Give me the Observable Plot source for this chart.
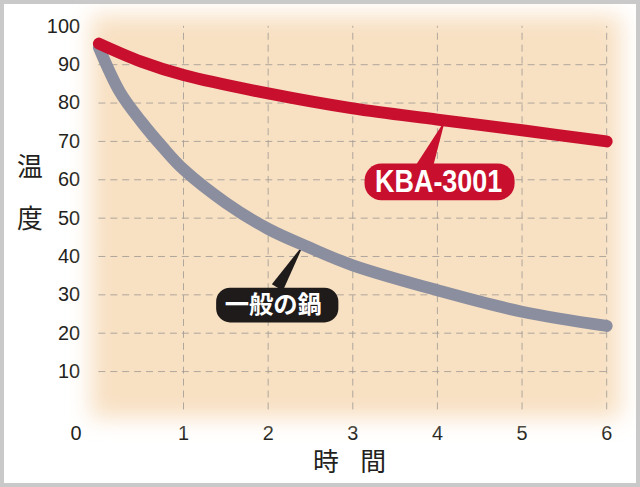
<!DOCTYPE html>
<html><head><meta charset="utf-8">
<script src="https://cdn.jsdelivr.net/npm/d3@7"></script>
<script src="https://cdn.jsdelivr.net/npm/@observablehq/plot@0.6"></script>
<style>
html,body{margin:0;padding:0;background:#fff;}
#box{width:640px;height:487px;box-sizing:border-box;border:4px solid #c9c9c9;background:#fff;position:relative;overflow:hidden;}
#chart{position:absolute;left:-4px;top:-4px;}
</style></head><body><div id="box"><div id="chart"></div></div>
<script>
// ---- data ----
const kbaHours = [0, 0.5, 1, 2, 3, 4, 5, 6];
const kbaTemp  = [95.5, 90.8, 87.3, 82.5, 78.6, 75.7, 72.9, 70.0];
const potHours = [0, 0.25, 0.5, 0.75, 1, 1.5, 2, 2.5, 3, 4, 5, 6];
const potTemp  = [94.5, 82.8, 75.2, 68.6, 62.7, 54.0, 47.2, 42.2, 37.7, 31.2, 25.6, 21.9];
const xTicks = [1, 2, 3, 4, 5, 6];
const yTicks = [10, 20, 30, 40, 50, 60, 70, 80, 90, 100];
const yGrid  = [10, 20, 30, 40, 50, 60, 70, 80, 90];
const seriesNames = ["KBA-3001", "一般の鍋"];
const calloutHours = [4.09, 2.42];
const calloutTemp  = [75.5, 43.2];
const yTitle = ["温", "度"];
const xTitle = ["時", "間"];

const kba = kbaHours.map((h, i) => ({h, t: kbaTemp[i]}));
const pot = potHours.map((h, i) => ({h, t: potTemp[i]}));
const kbaCall = [{h: calloutHours[0], t: calloutTemp[0], label: seriesNames[0]}];
const potCall = [{h: calloutHours[1], t: calloutTemp[1], label: seriesNames[1]}];

const RED = "#c8102e", GRAY = "#8a8e9f", DARK = "#1f1b1b";
const numFont = "'Liberation Sans', Arial, Helvetica, sans-serif";
const cjkFont = "'Noto Sans CJK JP', 'Noto Sans CJK SC', sans-serif";

function roundRect(w, h, r) {
  return {draw(ctx) {
    const x0 = -w / 2, y0 = -h / 2, x1 = w / 2, y1 = h / 2;
    ctx.moveTo(x0 + r, y0);
    ctx.lineTo(x1 - r, y0);
    ctx.arcTo(x1, y0, x1, y0 + r, r);
    ctx.lineTo(x1, y1 - r);
    ctx.arcTo(x1, y1, x1 - r, y1, r);
    ctx.lineTo(x0 + r, y1);
    ctx.arcTo(x0, y1, x0, y1 - r, r);
    ctx.lineTo(x0, y0 + r);
    ctx.arcTo(x0, y0, x0 + r, y0, r);
    ctx.closePath();
  }};
}
const spike = Plot.spike ? Plot.spike : (d, o) => Plot.vector(d, {shape: "spike", ...o});
const titleOpts = {text: d => d, textAnchor: "middle", lineAnchor: "middle", fontSize: 26, fontFamily: cjkFont, fill: "#231f20"};

const chart = Plot.plot({
  width: 640, height: 487,
  marginLeft: 99, marginRight: 30, marginTop: 26, marginBottom: 75,
  style: {fontSize: "20px", fontFamily: numFont, color: "#231f20", background: "transparent", overflow: "visible"},
  x: {domain: [0, 6], ticks: xTicks, tickFormat: "d", tickSize: 0, tickPadding: 16, label: null},
  y: {domain: [0, 100], ticks: yTicks, tickFormat: "d", tickSize: 0, tickPadding: 19, label: null},
  marks: [
    Plot.frame({fill: "#f8e0c2", stroke: "none", insetLeft: -8, insetRight: -14, insetTop: -11, insetBottom: -8}),
    Plot.ruleX(xTicks, {x: d => d, y1: 0, y2: 100, stroke: "#9d9893", strokeOpacity: 0.8, strokeDasharray: "7,5"}),
    Plot.ruleY(yGrid, {y: d => d, x1: 0, x2: 6, stroke: "#9d9893", strokeOpacity: 0.8, strokeDasharray: "7,5"}),
    Plot.text([0], {x: d => d, y: d => d, text: () => "0", dx: -23, dy: 23.5, fontSize: 20, fontFamily: numFont, fill: "#231f20"}),
    // callout pointers
    spike(kbaCall, {x: "h", y: "t", length: 52, rotate: 23.8, r: 8.5, anchor: "end", fill: RED, fillOpacity: 1, stroke: "none"}),
    spike(potCall, {x: "h", y: "t", length: 51, rotate: 31.3, r: 6.5, anchor: "end", fill: DARK, fillOpacity: 1, stroke: "none"}),
    // series lines
    Plot.line(pot, {x: "h", y: "t", stroke: GRAY, strokeWidth: 12, curve: "catmull-rom", strokeLinecap: "round"}),
    Plot.line(kba, {x: "h", y: "t", stroke: RED, strokeWidth: 12, curve: "catmull-rom", strokeLinecap: "round"}),
    // callout boxes
    Plot.dot(kbaCall, {x: "h", y: "t", symbol: roundRect(151, 37, 17), r: 10, fill: RED, stroke: "none", dx: -5.5, dy: 62}),
    Plot.dot(potCall, {x: "h", y: "t", symbol: roundRect(123, 35, 14), r: 10, fill: DARK, stroke: "none", dx: -26.6, dy: 61.2}),
    Plot.text(kbaCall, {x: "h", y: "t", text: "label", dx: -6.4, dy: 62, fill: "white", fontSize: 31, fontWeight: "bold", fontFamily: numFont}),
    Plot.text(potCall, {x: "h", y: "t", text: "label", dx: -30.6, dy: 61, fill: "white", fontSize: 24.5, fontWeight: "bold", fontFamily: cjkFont}),
    // axis titles
    Plot.text([yTitle[0]], {frameAnchor: "left", dx: -69.5, dy: -51, ...titleOpts}),
    Plot.text([yTitle[1]], {frameAnchor: "left", dx: -69.5, dy: 2, ...titleOpts}),
    Plot.text([xTitle[0]], {frameAnchor: "bottom", dx: -27, dy: 53, ...titleOpts}),
    Plot.text([xTitle[1]], {frameAnchor: "bottom", dx: 20.5, dy: 53, ...titleOpts})
  ]
});

// soften the plot-area background
const ns = "http://www.w3.org/2000/svg";
const defs = document.createElementNS(ns, "defs");
const filt = document.createElementNS(ns, "filter");
filt.setAttribute("id", "soft");
filt.setAttribute("x", "-10%"); filt.setAttribute("y", "-10%");
filt.setAttribute("width", "120%"); filt.setAttribute("height", "120%");
const blur = document.createElementNS(ns, "feGaussianBlur");
blur.setAttribute("stdDeviation", "11");
filt.appendChild(blur); defs.appendChild(filt);
chart.insertBefore(defs, chart.firstChild);
const fr = chart.querySelector('[aria-label="frame"]');
if (fr) fr.setAttribute("filter", "url(#soft)");
// condensed label lettering, as in the reference
chart.querySelectorAll("text").forEach(t => {
  if (t.textContent === seriesNames[0]) { t.setAttribute("textLength", "128"); t.setAttribute("lengthAdjust", "spacingAndGlyphs"); }
});

document.getElementById("chart").appendChild(chart);
</script></body></html>
